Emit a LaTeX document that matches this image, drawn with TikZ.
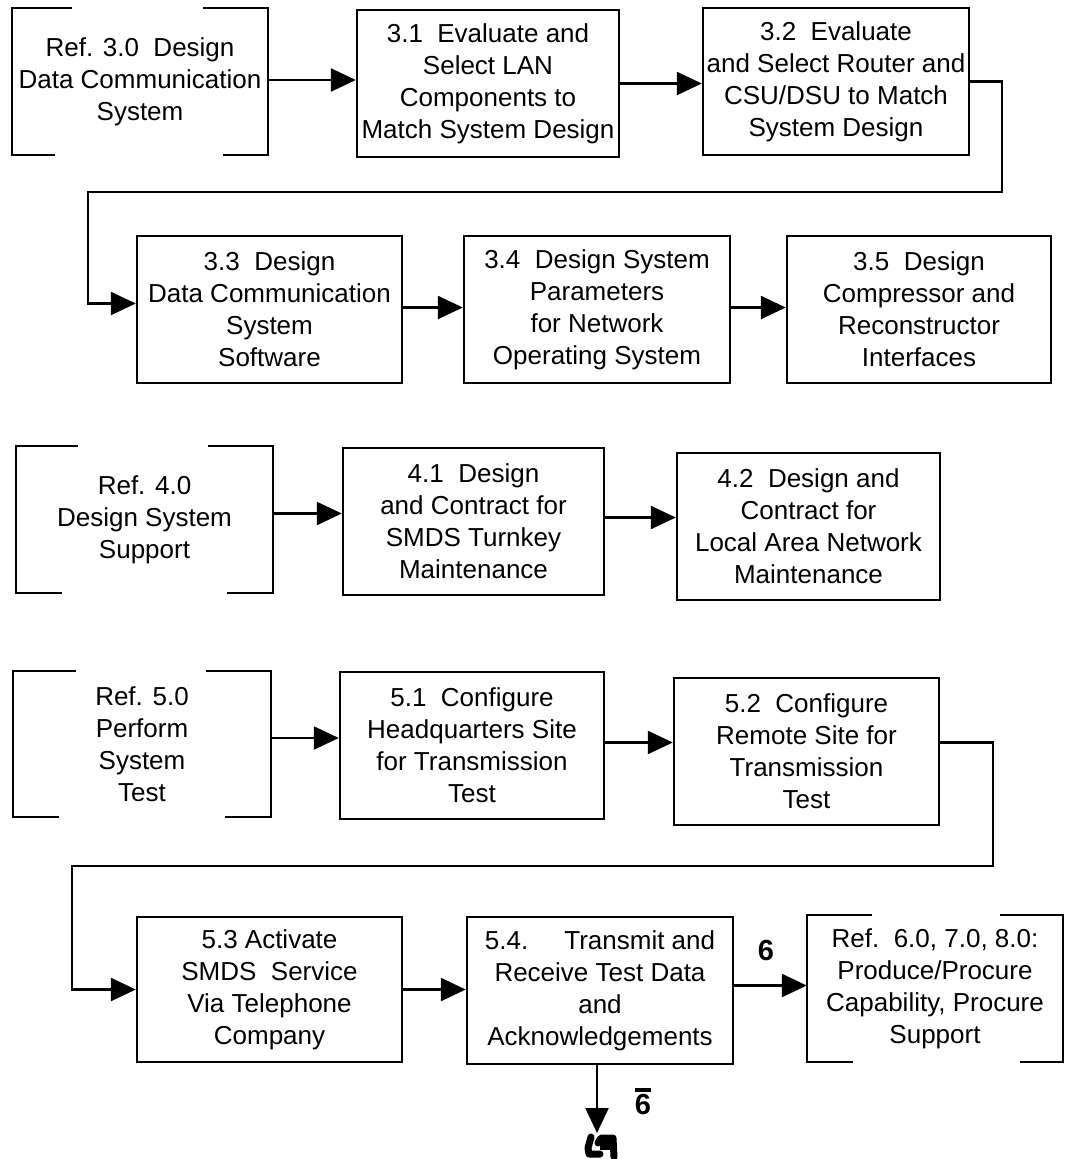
\documentclass[tikz,border=0pt]{standalone}
\usepackage{fontspec}
\setmainfont{Liberation Sans}
\usetikzlibrary{arrows.meta}

% open "Ref." frame: corner brackets drawn round a named node
\newcommand\refbracket[5]{%
  \draw[bracket] ([xshift=#2pt]#1.north west) -- (#1.north west) -- (#1.south west) -- ([xshift=#4pt]#1.south west);
  \draw[bracket] ([xshift=-#3pt]#1.north east) -- (#1.north east) -- (#1.south east) -- ([xshift=-#5pt]#1.south east);}

\begin{document}
\begin{tikzpicture}[x=1pt,y=-1pt,
  every node/.style={font=\fontsize{26}{32}\selectfont, align=center, inner sep=0pt},
  box/.style={draw, line width=2.4pt},
  bracket/.style={line width=2.4pt},
  flow/.style={line width=2.4pt, -{Triangle[length=25pt,width=23pt]}},
  tag/.style={font=\fontsize{29}{30}\selectfont\bfseries}]

\useasboundingbox[fill=white] (0,0) rectangle (1065,1159);

% ---- task 3 ----
\node[minimum width=256pt, minimum height=147pt] (r30) at (140,81.5)
  {Ref. 3.0\ \ Design\\Data Communication\\System};
\node[box, minimum width=262pt, minimum height=147pt] (b31) at (488,83.5)
  {3.1\ \ Evaluate and\\Select LAN\\Components to\\Match System Design};
\node[box, minimum width=266pt, minimum height=147pt] (b32) at (836,81.5)
  {3.2\ \ Evaluate\\and Select Router and\\CSU/DSU to Match\\System Design};
\node[box, minimum width=265pt, minimum height=147pt] (b33) at (269.5,309.5)
  {3.3\ \ Design\\Data Communication\\System\\Software};
\node[box, minimum width=266pt, minimum height=147pt] (b34) at (597,309.5)
  {3.4\ \ Design System\\Parameters\\for Network\\Operating System};
\node[box, minimum width=264pt, minimum height=147pt] (b35) at (919,309.5)
  {3.5\ \ Design\\Compressor and\\Reconstructor\\Interfaces};

% ---- task 4 ----
\node[minimum width=257pt, minimum height=147pt] (r40) at (144.5,519.5)
  {Ref. 4.0\\Design System\\Support};
\node[box, minimum width=261pt, minimum height=147pt] (b41) at (473.5,521.5)
  {4.1\ \ Design\\and Contract for\\SMDS Turnkey\\Maintenance};
\node[box, minimum width=263pt, minimum height=147pt] (b42) at (808.5,526.5)
  {4.2\ \ Design and\\Contract for\\Local Area Network\\Maintenance};

% ---- task 5 ----
\node[minimum width=258pt, minimum height=146pt] (r50) at (142,744)
  {Ref. 5.0\\Perform\\System\\Test};
\node[box, minimum width=264pt, minimum height=147pt] (b51) at (472,745.5)
  {5.1\ \ Configure\\Headquarters Site\\for Transmission\\Test};
\node[box, minimum width=265pt, minimum height=147pt] (b52) at (806.5,751.5)
  {5.2\ \ Configure\\Remote Site for\\Transmission\\Test};
\node[box, minimum width=265pt, minimum height=145pt] (b53) at (269.5,989.5)
  {5.3 Activate\\SMDS\ \ Service\\Via Telephone\\Company};
\node[box, minimum width=266pt, minimum height=147pt] (b54) at (600,990.5)
  {5.4.\ \ \ \ \ Transmit and\\Receive Test Data\\and\\Acknowledgements};
\node[minimum width=256pt, minimum height=147pt] (r60) at (935,988.5)
  {Ref.\ \ 6.0, 7.0, 8.0:\\Produce/Procure\\Capability, Procure\\Support};

% bracket frames
\refbracket{r30}{60}{65}{43}{45}
\refbracket{r40}{62}{65}{46}{46}
\refbracket{r50}{63}{65}{46}{46}
\refbracket{r60}{65}{63}{46}{43}

% routing corners
\coordinate (c1) at (1002,192);
\coordinate (c2) at (88,192);
\coordinate (c3) at (993,866);
\coordinate (c4) at (72,866);

% connectors
\draw[flow] ([yshift=1.5pt]r30.east) -- ([yshift=1.5pt]r30.east -| b31.west);
\draw[flow] (b31.east) -- (b31.east -| b32.west);
\draw[flow] (b32.east) -- (b32.east -| c1) -- (c1) -- (c2) -- ([yshift=6pt]c2 |- b33.west) -- ([yshift=6pt]b33.west);
\draw[flow] ([yshift=2pt]b33.east) -- ([yshift=2pt]b33.east -| b34.west);
\draw[flow] ([yshift=2pt]b34.east) -- ([yshift=2pt]b34.east -| b35.west);

\draw[flow] ([yshift=6pt]r40.east) -- ([yshift=6pt]r40.east -| b41.west);
\draw[flow] ([yshift=4pt]b41.east) -- ([yshift=4pt]b41.east -| b42.west);

\draw[flow] ([yshift=6pt]r50.east) -- ([yshift=6pt]r50.east -| b51.west);
\draw[flow] ([yshift=3pt]b51.east) -- ([yshift=3pt]b51.east -| b52.west);
\draw[flow] ([yshift=9pt]b52.east) -- ([yshift=9pt]b52.east -| c3) -- (c3) -- (c4) -- (c4 |- b53.west) -- (b53.west);

\draw[flow] (b53.east) -- (b53.east -| b54.west);
\draw[flow] ([yshift=5pt]b54.east) -- ([yshift=5pt]b54.east -| r60.west);

% exit to the terminal mark
\coordinate (e1) at (597,1133);
\draw[flow] ([xshift=-3pt]b54.south) -- (e1);

% labels
\node[tag] (t6) at (766,951) {6};
\node[tag] (t6n) at (643,1105) {6};
\draw[line width=4pt] ([yshift=5pt]t6n.north west) -- ([yshift=5pt]t6n.north east);

% terminal mark below the exit
\begin{scope}[line width=7pt, line cap=round, line join=round]
  \draw (591,1137) -- (588,1148) -- (589,1154) -- (600,1154);
  \draw (598,1143) -- (601,1138) -- (613,1138) -- (614,1157);
\end{scope}
\fill (600,1140) rectangle (610,1150);
\end{tikzpicture}
\end{document}
